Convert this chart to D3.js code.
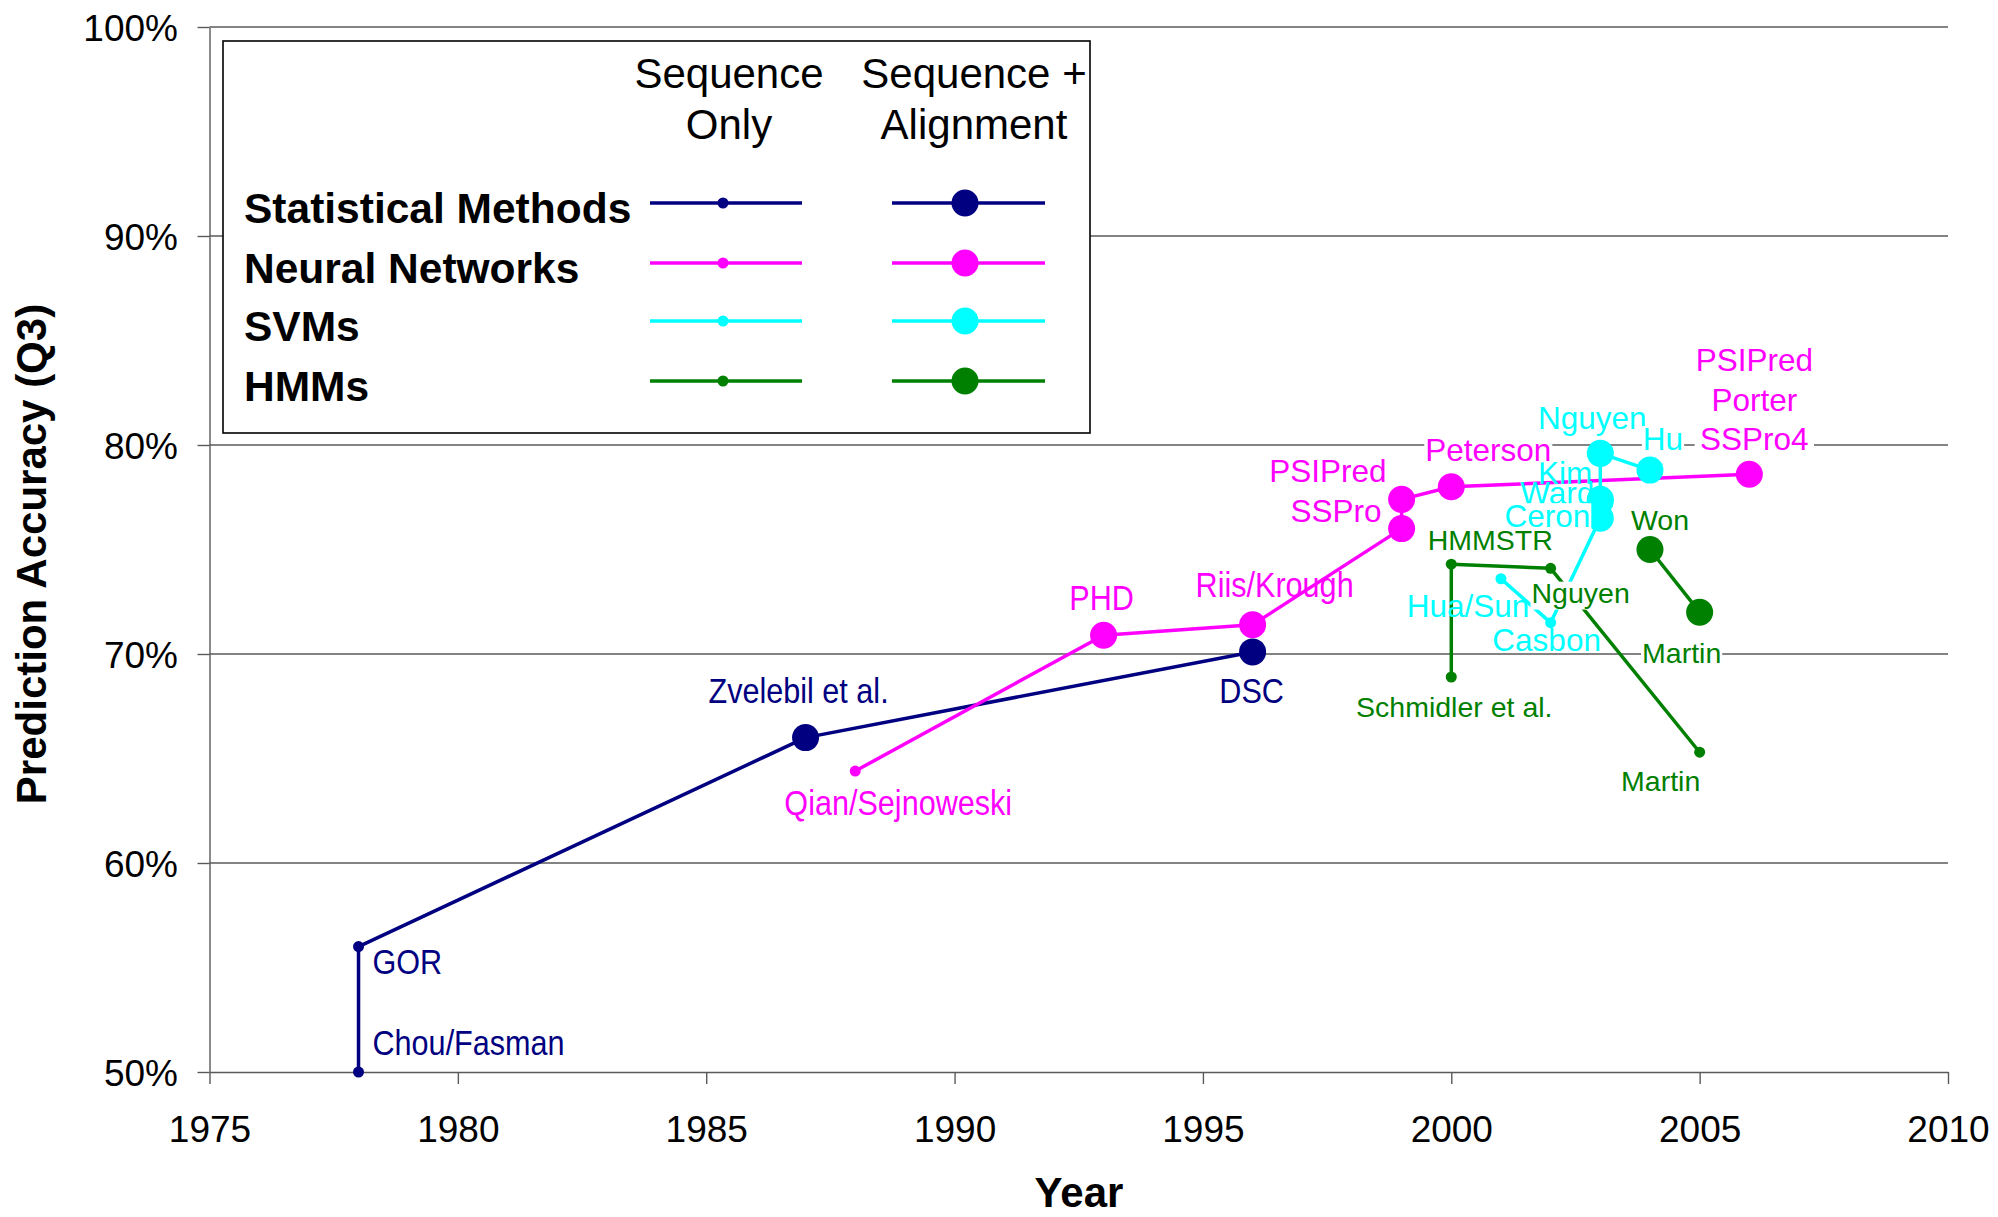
<!DOCTYPE html>
<html><head><meta charset="utf-8">
<script src="https://cdn.jsdelivr.net/npm/d3@7"></script>
<style>
html,body{margin:0;padding:0;background:#fff;}
svg{display:block;font-family:"Liberation Sans",Arial,Helvetica,sans-serif;}
</style>
</head><body>
<svg id="chart" width="1998" height="1217"></svg>
<script>
// ---------------- DATA ----------------
const xTickValues = [1975, 1980, 1985, 1990, 1995, 2000, 2005, 2010];
const yTickValues = [50, 60, 70, 80, 90, 100];
const legendCategories = ["Statistical Methods", "Neural Networks", "SVMs", "HMMs"];
const legendColumns = [["Sequence", "Only"], ["Sequence +", "Alignment"]];

// Statistical methods
const statNames = ["Chou/Fasman", "GOR", "Zvelebil et al.", "DSC"];
const statYears = [1978, 1978, 1987, 1996];
const statQ3    = [50.0, 56.0, 66.0, 70.1];
const statAlign = [false, false, true, true];

// Neural networks
const nnNames = ["Qian/Sejnoweski", "PHD", "Riis/Krough", "SSPro", "PSIPred", "Peterson", "PSIPred\nPorter\nSSPro4"];
const nnYears = [1988, 1993, 1996, 1999, 1999, 2000, 2006];
const nnQ3    = [64.4, 70.9, 71.4, 76.0, 77.4, 78.0, 78.6];
const nnAlign = [false, true, true, true, true, true, true];

// SVMs
const svmNames = ["Hua/Sun", "Casbon", "Ceron", "Ward", "Kim", "Nguyen", "Hu"];
const svmYears = [2001, 2002, 2003, 2003, 2003, 2003, 2004];
const svmQ3    = [73.6, 71.5, 76.5, 77.3, 77.4, 79.6, 78.8];
const svmAlign = [false, false, true, true, true, true, true];

// HMMs (sequence only)
const hmmSeqNames = ["Schmidler et al.", "HMMSTR", "Nguyen", "Martin"];
const hmmSeqYears = [2000, 2000, 2002, 2005];
const hmmSeqQ3    = [68.9, 74.3, 74.1, 65.3];
const hmmSeqAlign = [false, false, false, false];

// HMMs (sequence + alignment)
const hmmAlnNames = ["Won", "Martin"];
const hmmAlnYears = [2004, 2005];
const hmmAlnQ3    = [75.0, 72.0];
const hmmAlnAlign = [true, true];

// ---------------- STYLE / LAYOUT ----------------
const categoryColors = ["#000080", "#FF00FF", "#00FFFF", "#008000"];

const series = [
  {key: "stat",   cat: 0, names: statNames,   years: statYears,   q3: statQ3,   align: statAlign},
  {key: "nn",     cat: 1, names: nnNames,     years: nnYears,     q3: nnQ3,     align: nnAlign},
  {key: "svm",    cat: 2, names: svmNames,    years: svmYears,    q3: svmQ3,    align: svmAlign},
  {key: "hmmSeq", cat: 3, names: hmmSeqNames, years: hmmSeqYears, q3: hmmSeqQ3, align: hmmSeqAlign},
  {key: "hmmAln", cat: 3, names: hmmAlnNames, years: hmmAlnYears, q3: hmmAlnQ3, align: hmmAlnAlign}
];

const labelLayout = {
  "stat|Chou/Fasman":     {a: "start",  dx: 14,  dy: -17, narrow: true},
  "stat|GOR":             {a: "start",  dx: 14,  dy: 27,  narrow: true},
  "stat|Zvelebil et al.": {a: "middle", dx: -7,  dy: -35, narrow: true},
  "stat|DSC":             {a: "middle", dx: -1,  dy: 51,  narrow: true},
  "nn|Qian/Sejnoweski":   {a: "middle", dx: 43,  dy: 44,  narrow: true},
  "nn|PHD":               {a: "middle", dx: -2,  dy: -25, narrow: true},
  "nn|Riis/Krough":       {a: "middle", dx: 22,  dy: -28, narrow: true},
  "nn|SSPro":             {a: "end",    dx: -20, dy: -7},
  "nn|PSIPred":           {a: "end",    dx: -15, dy: -17},
  "nn|Peterson":          {a: "middle", dx: 37,  dy: -26, bg: true},
  "nn|PSIPred\nPorter\nSSPro4": {a: "middle", dx: 5, dy: -103, lh: 39.5, bg: true},
  "svm|Hua/Sun":          {a: "middle", dx: -33, dy: 38},
  "svm|Casbon":           {a: "middle", dx: -4,  dy: 28},
  "svm|Ceron":            {a: "end",    dx: -10, dy: 9,   bg: true},
  "svm|Ward":             {a: "end",    dx: -6,  dy: 3},
  "svm|Kim":              {a: "end",    dx: -8,  dy: -15},
  "svm|Nguyen":           {a: "middle", dx: -8,  dy: -24, bg: true},
  "svm|Hu":               {a: "middle", dx: 13,  dy: -20, bg: true},
  "hmmSeq|Schmidler et al.": {a: "middle", dx: 3,  dy: 40},
  "hmmSeq|HMMSTR":        {a: "middle", dx: 39,  dy: -14},
  "hmmSeq|Nguyen":        {a: "middle", dx: 30,  dy: 35,  bg: true},
  "hmmSeq|Martin":        {a: "middle", dx: -39, dy: 39},
  "hmmAln|Won":           {a: "middle", dx: 10,  dy: -20},
  "hmmAln|Martin":        {a: "middle", dx: -18, dy: 51,  bg: true}
};

const BIG_R = 13.5, SMALL_R = 5.5, LINE_W = 3.5;
const GRID = "#5a5a5a";

// ---------------- CHART ----------------
const svg = d3.select("#chart");
const x = d3.scaleLinear().domain([1975, 2010]).range([209.5, 1948]);
const y = d3.scaleLinear().domain([50, 100]).range([1072, 27]);

// gridlines
svg.append("g").selectAll("line")
  .data(yTickValues.filter(v => v !== 50))
  .join("line")
  .attr("x1", x(1975)).attr("x2", x(2010))
  .attr("y1", d => y(d)).attr("y2", d => y(d))
  .attr("stroke", GRID).attr("stroke-width", 1.4);

// x axis
const xAxis = svg.append("g").attr("transform", `translate(0,${y(50)})`)
  .call(d3.axisBottom(x).tickValues(xTickValues).tickFormat(d3.format("d")).tickSize(12).tickSizeOuter(0));
xAxis.select(".domain").attr("stroke", GRID).attr("stroke-width", 1.4);
xAxis.selectAll(".tick line").attr("stroke", GRID).attr("stroke-width", 1.4);
xAxis.selectAll(".tick text").attr("y", 70).attr("dy", 0)
  .attr("font-size", 37).attr("fill", "#000").attr("font-family", "Liberation Sans, Arial, sans-serif");

// y axis
const yAxis = svg.append("g").attr("transform", `translate(${x(1975)},0)`)
  .call(d3.axisLeft(y).tickValues(yTickValues).tickFormat(d => d + "%").tickSize(12).tickSizeOuter(0));
yAxis.select(".domain").attr("stroke", GRID).attr("stroke-width", 1.4);
yAxis.selectAll(".tick line").attr("stroke", GRID).attr("stroke-width", 1.4);
yAxis.selectAll(".tick text").attr("x", -31.5).attr("dy", 13)
  .attr("font-size", 37).attr("fill", "#000").attr("font-family", "Liberation Sans, Arial, sans-serif");

// axis titles
svg.append("text")
  .attr("transform", "translate(46,554) rotate(-90)")
  .attr("text-anchor", "middle").attr("font-weight", "bold").attr("font-size", 42)
  .text("Prediction Accuracy (Q3)");
svg.append("text")
  .attr("x", 1079).attr("y", 1207)
  .attr("text-anchor", "middle").attr("font-weight", "bold").attr("font-size", 42)
  .text("Year");

// legend
const lg = svg.append("g");
lg.append("rect").attr("x", 223).attr("y", 41).attr("width", 867).attr("height", 392)
  .attr("fill", "#fff").attr("stroke", "#000").attr("stroke-width", 1.6);
const colCenters = [729, 974];
const colLines = [[650, 802, 723, SMALL_R], [892, 1045, 965, BIG_R]];
legendColumns.forEach((lines, c) => {
  lines.forEach((t, i) => {
    lg.append("text").attr("x", colCenters[c]).attr("y", 88 + i * 51)
      .attr("text-anchor", "middle").attr("font-size", 42).text(t);
  });
});
const rowY = [203, 263, 321, 381];
legendCategories.forEach((name, r) => {
  lg.append("text").attr("x", 244).attr("y", rowY[r] + 20)
    .attr("font-weight", "bold").attr("font-size", 42.5).text(name);
  colLines.forEach(([x1, x2, cx, rr]) => {
    lg.append("line").attr("x1", x1).attr("x2", x2).attr("y1", rowY[r]).attr("y2", rowY[r])
      .attr("stroke", categoryColors[r]).attr("stroke-width", LINE_W);
    lg.append("circle").attr("cx", cx).attr("cy", rowY[r]).attr("r", rr)
      .attr("fill", categoryColors[r]);
  });
});

// series
const lineGen = d3.line().x(d => x(d.year)).y(d => y(d.q3));
const pts = s => s.names.map((n, i) => ({name: n, year: s.years[i], q3: s.q3[i], align: s.align[i]}));

series.forEach(s => {
  const data = pts(s);
  const col = categoryColors[s.cat];
  const g = svg.append("g");
  g.append("path").datum(data).attr("d", lineGen)
    .attr("fill", "none").attr("stroke", col).attr("stroke-width", LINE_W)
    .attr("stroke-linejoin", "round");
  g.selectAll("circle").data(data).join("circle")
    .attr("cx", d => x(d.year)).attr("cy", d => y(d.q3))
    .attr("r", d => d.align ? BIG_R : SMALL_R)
    .attr("fill", col);
});

// labels (plain first, boxed on top)
const allLabels = [];
series.forEach(s => {
  pts(s).forEach(d => {
    const L = labelLayout[s.key + "|" + d.name] || {a: "middle", dx: 0, dy: -20};
    allLabels.push({s, d, L});
  });
});
allLabels.sort((p, q) => (p.L.bg ? 1 : 0) - (q.L.bg ? 1 : 0));

const labelLayer = svg.append("g");
allLabels.forEach(({s, d, L}) => {
  const col = categoryColors[s.cat];
  const fs = L.narrow ? 36 : (s.cat === 3 ? 28.5 : 31.5);
  const sx = L.narrow ? 0.85 : 1;
  const g = labelLayer.append("g")
    .attr("transform", `translate(${x(d.year) + L.dx},${y(d.q3) + L.dy}) scale(${sx},1)`);
  const rect = L.bg ? g.append("rect").attr("fill", "#fff") : null;
  const t = g.append("text").attr("text-anchor", L.a).attr("font-size", fs).attr("fill", col);
  const lines = d.name.split("\n");
  lines.forEach((ln, i) => {
    t.append("tspan").attr("x", 0).attr("y", i * (L.lh || 0)).text(ln);
  });
  if (rect) {
    const bb = t.node().getBBox();
    const last = lines[lines.length - 1];
    const top = -0.76 * fs;
    const bottom = (lines.length - 1) * (L.lh || 0) + (/[gjpqy]/.test(last) ? 0.22 : 0.05) * fs;
    rect.attr("x", bb.x - 1).attr("y", top).attr("width", bb.width + 2).attr("height", bottom - top);
  }
});
</script>
</body></html>
